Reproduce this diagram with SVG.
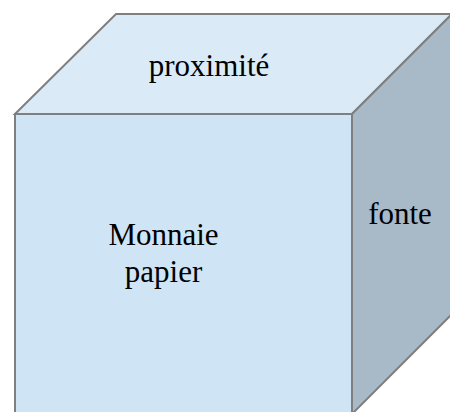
<svg xmlns="http://www.w3.org/2000/svg" width="450" height="412" viewBox="0 0 450 412">
<style>
.face{stroke:#7f7f7f;stroke-width:2;stroke-linejoin:miter}
.lbl{font-family:"Liberation Serif","Times New Roman",serif;font-size:31px;fill:#000;text-anchor:middle}
</style>
<rect width="450" height="412" fill="#ffffff"/>
<g id="cube">
<polygon id="top" class="face" fill="#daebf7" points="15,114 116,14 452,14 352,114"/>
<polygon id="right" class="face" fill="#a8bac7" points="352,114 452,14 452,314 352,414"/>
<rect id="front" class="face" fill="#cfe4f4" x="15" y="114" width="337" height="300"/>
</g>
<g id="labels">
<text class="lbl" x="209" y="76">proximité</text>
<text class="lbl" x="163.5" y="245">Monnaie</text>
<text class="lbl" x="163.5" y="282">papier</text>
<text class="lbl" x="400" y="224">fonte</text>
</g>
</svg>
